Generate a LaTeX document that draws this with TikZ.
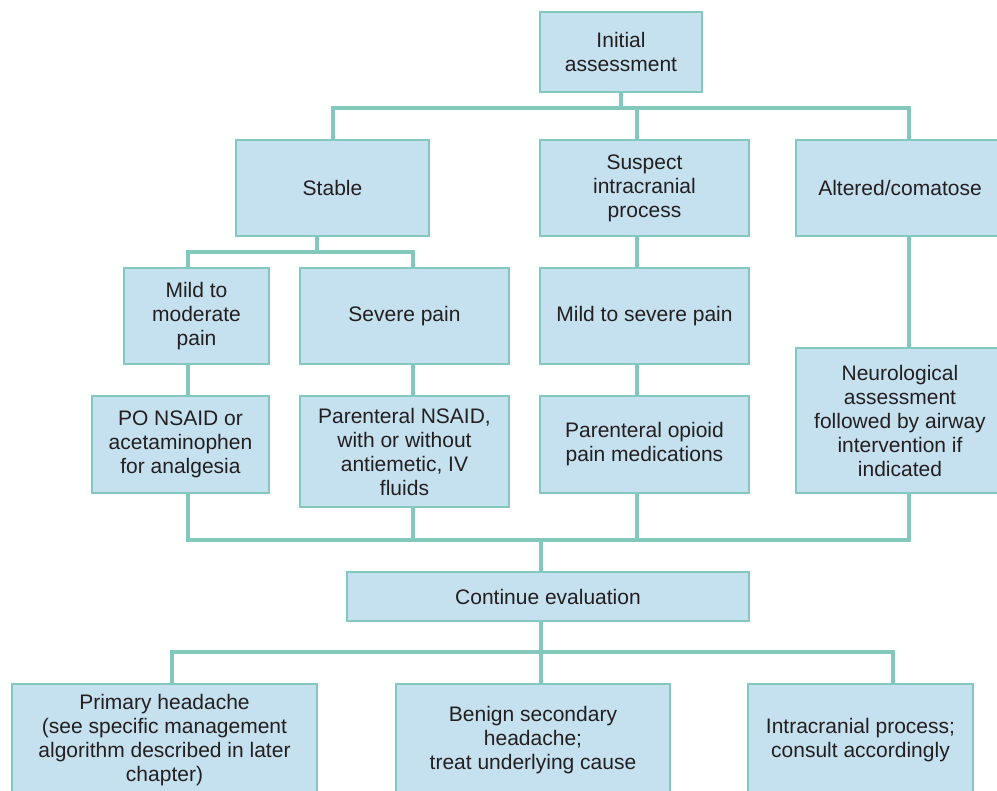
\documentclass[tikz,border=0pt]{standalone}
\usepackage{fontspec}
\setmainfont{Liberation Sans}
\definecolor{boxfill}{HTML}{C5E0EE}
\definecolor{edge}{HTML}{82C8BC}
\definecolor{txt}{HTML}{231F20}
\tikzset{
  box/.style={draw=edge, line width=2.5pt, fill=boxfill, text=txt, align=center,
    inner sep=0pt, font=\fontsize{21}{24}\selectfont},
  link/.style={draw=edge, line width=4.5pt}
}
\begin{document}
\begin{tikzpicture}[x=1pt,y=-1pt]
\useasboundingbox (0,0) rectangle (997,791);

% boxes
\node[box, minimum width=162, minimum height=80] (init) at (621,52) {Initial\\assessment};
\node[box, minimum width=193, minimum height=96] (stable) at (332.5,188) {Stable};
\node[box, minimum width=209, minimum height=96] (suspect) at (644.5,188) {Suspect\\intracranial\\process};
\node[box, minimum width=208, minimum height=96] (altered) at (900,188) {Altered/comatose};
\node[box, minimum width=145, minimum height=96] (mildmod) at (196.5,316) {Mild to\\moderate\\pain};
\node[box, minimum width=209, minimum height=96] (severe) at (404.5,316) {Severe pain};
\node[box, minimum width=209, minimum height=96] (mildsev) at (644.5,316) {Mild to severe pain};
\node[box, minimum width=208, minimum height=145] (neuro) at (900,420.5) {Neurological\\assessment\\followed by airway\\intervention if\\indicated};
\node[box, minimum width=177, minimum height=97] (po) at (180.5,444.5) {PO NSAID or\\acetaminophen\\for analgesia};
\node[box, minimum width=209, minimum height=111] (parent) at (404.5,451.5) {Parenteral NSAID,\\with or without\\antiemetic, IV\\fluids};
\node[box, minimum width=209, minimum height=97] (opioid) at (644.5,444.5) {Parenteral opioid\\pain medications};
\node[box, minimum width=402, minimum height=49] (cont) at (548,596.5) {Continue evaluation};
\node[box, minimum width=305, minimum height=112] (primary) at (164.5,740) {Primary headache\\(see specific management\\algorithm described in later\\chapter)};
\node[box, minimum width=274, minimum height=112] (benign) at (533,740) {Benign secondary\\headache;\\treat underlying cause};
\node[box, minimum width=225, minimum height=112] (intra) at (860.5,740) {Intracranial process;\\consult accordingly};

% junction coordinates (x positions of the connector lines, y of the bars)
\coordinate (xi) at (621,108);
\coordinate (xs) at (333,108);
\coordinate (xq) at (637,108);
\coordinate (xa) at (909,108);
\coordinate (ys) at (317,252);
\coordinate (xm) at (188,252);
\coordinate (xv) at (413,252);
\coordinate (ym) at (541,540);
\coordinate (yb) at (541,652);
\coordinate (xp) at (172,652);
\coordinate (xt) at (893,652);

\begin{scope}[on background layer/.try]
% top level
\draw[link] (xs |- stable.north) |- (xi) -| (xa |- altered.north);
\draw[link] (xi) -- (xi |- init.south);
\draw[link] (xq) -- (xq |- suspect.north);
% stable branch
\draw[link] (ys |- stable.south) -- (ys);
\draw[link] (xm |- mildmod.north) |- (ys) -| (xv |- severe.north);
\draw[link] (xm |- mildmod.south) -- (xm |- po.north);
\draw[link] (xv |- severe.south) -- (xv |- parent.north);
% suspect branch
\draw[link] (xq |- suspect.south) -- (xq |- mildsev.north);
\draw[link] (xq |- mildsev.south) -- (xq |- opioid.north);
% altered branch
\draw[link] (xa |- altered.south) -- (xa |- neuro.north);
% merge
\draw[link] (xm |- po.south) |- (ym) -| (xa |- neuro.south);
\draw[link] (xv |- parent.south) -- (xv |- ym);
\draw[link] (xq |- opioid.south) -- (xq |- ym);
\draw[link] (ym) -- (ym |- cont.north);
% outcomes
\draw[link] (yb |- cont.south) -- (yb);
\draw[link] (xp |- primary.north) |- (yb) -| (xt |- intra.north);
\draw[link] (yb) -- (yb |- benign.north);
\end{scope}
\end{tikzpicture}
\end{document}
